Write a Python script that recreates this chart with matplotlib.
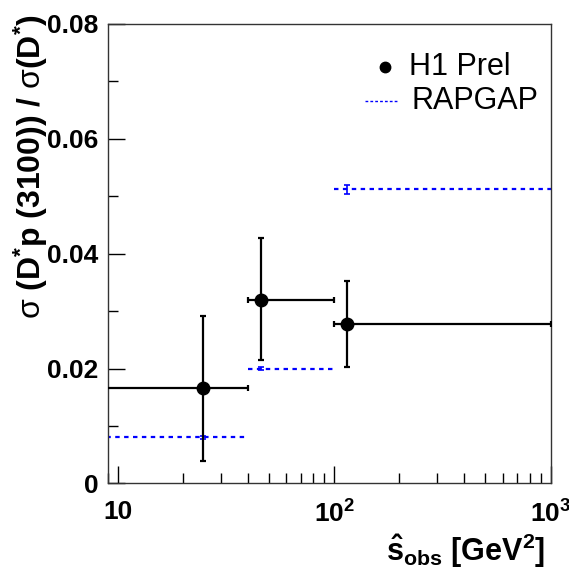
import matplotlib
matplotlib.use("Agg")
import matplotlib.pyplot as plt
import numpy as np
from matplotlib.ticker import FixedLocator, LogLocator, NullFormatter, FixedFormatter

plt.rcParams['font.family'] = ['Liberation Sans', 'DejaVu Sans']
plt.rcParams['mathtext.fontset'] = 'custom'
plt.rcParams['mathtext.rm'] = 'Liberation Sans'
plt.rcParams['mathtext.bf'] = 'Liberation Sans:bold'
plt.rcParams['mathtext.it'] = 'Liberation Sans:italic'

# Data
bin_lo = [5.0, 40.0, 100.0]
bin_hi = [40.0, 100.0, 1000.0]
h1_x = [24.7, 46.0, 115.0]
h1_y = [0.0166, 0.0320, 0.0278]
h1_err_up = [0.0126, 0.0107, 0.0075]
h1_err_dn = [0.0127, 0.0105, 0.0075]
rap_y = [0.0080, 0.0200, 0.0512]
rap_err = [0.0002, 0.0002, 0.0008]

x_ticks = [10, 100, 1000]
x_ticklabels = ['10', r'10$^{\mathbf{2}}$', r'10$^{\mathbf{3}}$']
y_ticks = [0, 0.02, 0.04, 0.06, 0.08]
y_ticklabels = ['0', '0.02', '0.04', '0.06', '0.08']

fig = plt.figure(figsize=(5.69, 5.68), dpi=100)
ax = fig.add_axes([0.19, 0.149, 0.7775, 0.8088])
ax.set_xscale('log')
ax.set_xlim(9, 1000)
ax.set_ylim(0, 0.08)

blo = np.array(bin_lo); bhi = np.array(bin_hi)
hx = np.array(h1_x)

# RAPGAP dotted lines
ax.hlines(rap_y, blo, bhi, colors='#0000ff', linestyles=(0, (2, 2)), lw=1.6, zorder=2)
ax.errorbar(hx, rap_y, yerr=rap_err, fmt='none', ecolor='#0000ff', elinewidth=1.2,
            capsize=2, capthick=1.2, zorder=2)

# H1 data
ax.errorbar(hx, h1_y, xerr=[hx - blo, bhi - hx], yerr=[h1_err_dn, h1_err_up],
            fmt='o', color='black', ms=9, elinewidth=1.6, capsize=2.5, capthick=1.6,
            zorder=3, clip_on=True)

# Ticks
ax.xaxis.set_major_locator(FixedLocator(x_ticks))
ax.xaxis.set_major_formatter(FixedFormatter(x_ticklabels))
ax.xaxis.set_minor_locator(LogLocator(base=10, subs=np.arange(2, 10)))
ax.xaxis.set_minor_formatter(NullFormatter())
ax.yaxis.set_major_locator(FixedLocator(y_ticks))
ax.yaxis.set_major_formatter(FixedFormatter(y_ticklabels))
ax.yaxis.set_minor_locator(FixedLocator([0.01, 0.03, 0.05, 0.07]))

ax.tick_params(which='both', direction='in', top=False, right=False, width=1)
ax.tick_params(which='major', length=12, labelsize=19)
ax.tick_params(axis='y', which='major', pad=7)
ax.tick_params(axis='x', which='major', pad=12)
ax.tick_params(which='minor', length=7)
for lab in ax.get_xticklabels() + ax.get_yticklabels():
    lab.set_fontweight('bold')
for s in ax.spines.values():
    s.set_linewidth(1.0)
    s.set_color('#333333')

# Labels
fig.text(0.054, 0.976, r'$\mathrm{\sigma}$ (D$^{\mathbf{*}}$p (3100)) / $\mathrm{\sigma}$(D$^{\mathbf{*}}$)',
         rotation=90, ha='center', va='top', fontsize=23, fontweight='bold')
fig.text(0.958, 0.03, r'$\mathbf{\hat{s}_{obs}}$ [GeV$^{\mathbf{2}}$]',
         ha='right', va='center', fontsize=22, fontweight='bold')

# Legend
ax.plot([0.627], [0.907], 'o', color='black', ms=7.5, transform=ax.transAxes)
ax.text(0.68, 0.907, 'H1 Prel', transform=ax.transAxes, ha='left', va='center', fontsize=22)
ax.plot([0.58, 0.655], [0.832, 0.832], color='#0000ff', ls=(0, (2, 1.5)), lw=1.0, transform=ax.transAxes)
ax.text(0.685, 0.832, 'RAPGAP', transform=ax.transAxes, ha='left', va='center', fontsize=22)

fig.savefig('out.png', dpi=100)
